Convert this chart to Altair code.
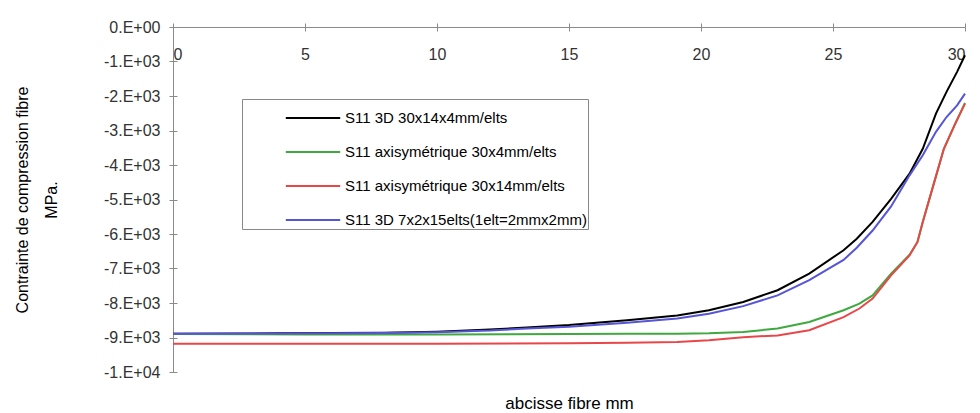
import altair as alt
import pandas as pd

# ---- data ----
series_names = [
    "S11 3D 30x14x4mm/elts",
    "S11 axisymétrique 30x4mm/elts",
    "S11 axisymétrique 30x14mm/elts",
    "S11 3D 7x2x15elts(1elt=2mmx2mm)",
]
series_colors = ["#000000", "#3fa83f", "#e8474a", "#5555d5"]

x_black = [0, 4, 8, 10, 12, 13.4, 15, 17.2, 19.1, 20.3, 21.6, 22.9, 24.1, 25.4, 25.9, 26.5, 27.2, 27.9, 28.4, 28.9, 29.3, 29.7, 30]
y_black = [-8890, -8880, -8860, -8830, -8770, -8710, -8640, -8500, -8360, -8210, -7970, -7630, -7150, -6470, -6135, -5650, -4980, -4250, -3530, -2510, -1880, -1300, -820]

x_blue = [0, 4, 8, 10, 12, 13.4, 15, 17.2, 19.1, 20.3, 21.6, 22.9, 24.1, 25.4, 25.9, 26.5, 27.2, 27.9, 28.4, 28.9, 29.3, 29.7, 30]
y_blue = [-8890, -8885, -8870, -8850, -8800, -8740, -8690, -8570, -8450, -8310, -8090, -7780, -7340, -6750, -6400, -5900, -5200, -4300, -3720, -3040, -2610, -2270, -1930]

x_green = [0, 5, 10, 15, 17.2, 19.1, 20.3, 21.6, 22.9, 24.1, 25.4, 26.0, 26.5, 27.2, 27.9, 28.2, 28.4, 28.8, 29.2, 29.6, 30]
y_green = [-8900, -8910, -8910, -8900, -8890, -8890, -8880, -8840, -8740, -8550, -8210, -8020, -7780, -7150, -6600, -6230, -5650, -4590, -3530, -2850, -2200]

x_red = [0, 5, 10, 15, 17.2, 19.1, 20.3, 21.6, 22.9, 24.1, 25.4, 26.0, 26.5, 27.2, 27.9, 28.2, 28.4, 28.8, 29.2, 29.6, 30]
y_red = [-9180, -9180, -9180, -9170, -9150, -9130, -9080, -8990, -8940, -8790, -8410, -8160, -7870, -7200, -6620, -6230, -5650, -4590, -3530, -2850, -2220]

x_tick_values = [0, 5, 10, 15, 20, 25, 30]
y_tick_values = [0, -1000, -2000, -3000, -4000, -5000, -6000, -7000, -8000, -9000, -10000]
y_tick_labels = ["0.E+00", "-1.E+03", "-2.E+03", "-3.E+03", "-4.E+03", "-5.E+03",
                 "-6.E+03", "-7.E+03", "-8.E+03", "-9.E+03", "-1.E+04"]

x_title = "abcisse fibre mm"
y_title = ["Contrainte de compression fibre", "MPa."]

# ---- build table ----
rows = []
for name, xs, ys in zip(series_names,
                        [x_black, x_green, x_red, x_blue],
                        [y_black, y_green, y_red, y_blue]):
    for xv, yv in zip(xs, ys):
        rows.append({"series": name, "x": xv, "y": yv})
df = pd.DataFrame(rows)

label_expr = "[" + ",".join("'%s'" % l for l in y_tick_labels) + "][round(-datum.value/1000)]"

FONT = "Liberation Sans"
AXIS_GRAY = "#8a8a8a"
W, H = 792, 345

xscale = alt.Scale(domain=[0, 30], nice=False, zero=False)
yscale = alt.Scale(domain=[-10000, 0], nice=False, zero=False)

lines = alt.Chart(df).mark_line(strokeWidth=2).encode(
    x=alt.X("x:Q", scale=xscale, axis=alt.Axis(
        orient="bottom", offset=-H, values=x_tick_values, format="d", grid=False,
        domainColor=AXIS_GRAY, tickColor=AXIS_GRAY, tickSize=4,
        labelFont=FONT, labelFontSize=16, labelColor="#333333", labelPadding=15,
        title=x_title, titleFont=FONT, titleFontSize=17, titleFontWeight="normal",
        titleColor="#000000", titleY=H + 36, titleBaseline="alphabetic")),
    y=alt.Y("y:Q", scale=yscale, axis=alt.Axis(
        orient="left", values=y_tick_values, labelExpr=label_expr, grid=False,
        domainColor=AXIS_GRAY, tickColor=AXIS_GRAY, tickSize=4,
        labelFont=FONT, labelFontSize=16, labelColor="#333333", labelPadding=9,
        title=y_title, titleFont=FONT, titleFontSize=16, titleFontWeight="normal",
        titleColor="#000000", titleLineHeight=29, titlePadding=44)),
    color=alt.Color("series:N", scale=alt.Scale(domain=series_names, range=series_colors),
                    legend=alt.Legend(
                        orient="none", legendX=69, legendY=72, title=None,
                        symbolType="M-1.6,0L1.6,0", symbolSize=1156, symbolStrokeWidth=2,
                        labelFont=FONT, labelFontSize=15, labelColor="#000000",
                        labelLimit=600, labelOffset=14,
                        strokeColor="#888888", fillColor="#ffffff",
                        padding=1, rowPadding=8, symbolOffset=52)),
)

ticks = alt.Chart(df).mark_line(opacity=0).encode(
    x=alt.X("x:Q", scale=xscale, axis=alt.Axis(
        orient="top", values=x_tick_values, domain=False, labels=False, grid=False,
        tickSize=4, tickColor=AXIS_GRAY, title=None)),
    y=alt.Y("y:Q", scale=yscale, axis=alt.Axis(
        orient="right", offset=-W, values=y_tick_values, domain=False, labels=False,
        grid=False, tickSize=4, tickColor=AXIS_GRAY, title=None)),
    detail="series:N",
)

chart = alt.layer(lines, ticks).resolve_axis(
    x="independent", y="independent"
).properties(
    width=W, height=H, padding={"left": 6, "top": 11, "right": 0, "bottom": 0}
).configure_view(stroke=None)

chart.save("out.html", embed_options={"renderer": "svg", "actions": False})
